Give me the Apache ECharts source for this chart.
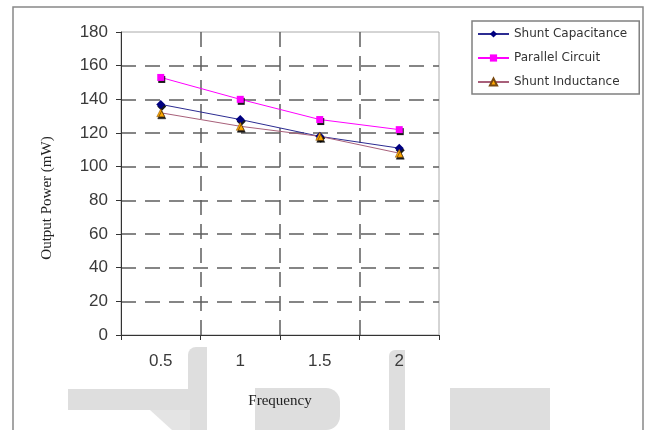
<!DOCTYPE html>
<html>
<head>
<meta charset="utf-8">
<script src="https://cdn.jsdelivr.net/npm/echarts@6/dist/echarts.min.js"></script>
<style>html,body{margin:0;padding:0;background:#fff}#c{width:647px;height:430px}</style>
</head>
<body>
<div id="c"></div>
<script>
var categories = ['0.5', '1', '1.5', '2'];
var shuntCapacitance = [137, 128, 118, 111];
var parallelCircuit = [153, 140, 128, 122];
var shuntInductance = [132, 124, 118, 108];
var yTicks = {min: 0, max: 180, interval: 20};

var chart = echarts.init(document.getElementById('c'), null, {renderer: 'canvas'});
var dash = {color: '#5e5e5e', width: 1.5, type: [15, 9]};
var shadow = {shadowColor: 'rgba(0,0,0,0.9)', shadowOffsetX: 1, shadowOffsetY: 2, shadowBlur: 0};
var wm = '#dedede';

chart.setOption({
  animation: false,
  backgroundColor: '#fff',
  grid: {left: 121, right: 208, top: 32, bottom: 95, show: true, borderColor: '#aaa', borderWidth: 1},
  legend: {
    orient: 'vertical', left: 472, top: 21,
    padding: [6, 12, 5, 5], itemGap: 10, itemWidth: 31, itemHeight: 9,
    borderColor: '#808080', borderWidth: 1.5,
    textStyle: {fontFamily: 'DejaVu Sans', fontSize: 12, color: '#333', lineHeight: 14},
    data: ['Shunt Capacitance', 'Parallel Circuit', 'Shunt Inductance']
  },
  xAxis: {
    type: 'category', data: categories, boundaryGap: true,
    name: 'Frequency', nameLocation: 'middle', nameGap: 59,
    nameTextStyle: {fontFamily: 'Liberation Serif', fontSize: 15, color: '#222'},
    axisLine: {lineStyle: {color: '#333', width: 1}},
    axisTick: {show: true, length: 5, lineStyle: {color: '#333'}},
    axisLabel: {fontFamily: 'Liberation Sans', fontSize: 17, color: '#3a3a3a', margin: 18},
    splitLine: {show: true, interval: 0, showMinLine: false, showMaxLine: false, lineStyle: dash}
  },
  yAxis: {
    type: 'value', min: yTicks.min, max: yTicks.max, interval: yTicks.interval,
    axisLine: {show: true, lineStyle: {color: '#333', width: 1}},
    axisTick: {show: true, length: 5, lineStyle: {color: '#333'}},
    axisLabel: {fontFamily: 'Liberation Sans', fontSize: 17, color: '#3a3a3a', margin: 13},
    splitLine: {show: true, showMinLine: false, showMaxLine: false, lineStyle: dash}
  },
  graphic: [
    {type: 'rect', z: -10, shape: {x: 68, y: 389, width: 125, height: 21}, style: {fill: wm}},
    {type: 'rect', z: -10, shape: {x: 188, y: 347, width: 19, height: 83, r: [8, 0, 0, 0]}, style: {fill: wm}},
    {type: 'polygon', z: -10, shape: {points: [[150, 410], [190, 410], [190, 430], [172, 430]]}, style: {fill: '#e4e4e4'}},
    {type: 'rect', z: -10, shape: {x: 255, y: 388, width: 85, height: 42, r: [0, 14, 14, 0]}, style: {fill: wm}},
    {type: 'rect', z: -10, shape: {x: 389, y: 350, width: 16, height: 80, r: [6, 0, 0, 0]}, style: {fill: wm}},
    {type: 'rect', z: -10, shape: {x: 450, y: 388, width: 100, height: 42}, style: {fill: wm}},
    {type: 'rect', z: 100, shape: {x: 13, y: 7, width: 630, height: 440}, style: {fill: 'none', stroke: '#888', lineWidth: 1.5}},
    {type: 'text', z: 100, x: 47, y: 198, rotation: Math.PI / 2,
     style: {text: 'Output Power (mW)', font: '15px "Liberation Serif"', fill: '#222', align: 'center', verticalAlign: 'middle'}}
  ],
  series: [
    {name: 'Shunt Capacitance', type: 'line', data: shuntCapacitance,
     symbol: 'diamond', symbolSize: 9,
     lineStyle: {color: '#2c2c92', width: 1},
     itemStyle: Object.assign({color: '#000080'}, shadow)},
    {name: 'Parallel Circuit', type: 'line', data: parallelCircuit,
     symbol: 'rect', symbolSize: 7,
     lineStyle: {color: '#ff00ff', width: 1},
     itemStyle: Object.assign({color: '#ff00ff'}, shadow)},
    {name: 'Shunt Inductance', type: 'line', data: shuntInductance,
     symbol: 'triangle', symbolSize: 8,
     lineStyle: {color: '#a8607a', width: 1},
     itemStyle: Object.assign({color: '#ffa800', borderColor: '#7a4a10', borderWidth: 0.5}, shadow)}
  ]
});
</script>
</body>
</html>
